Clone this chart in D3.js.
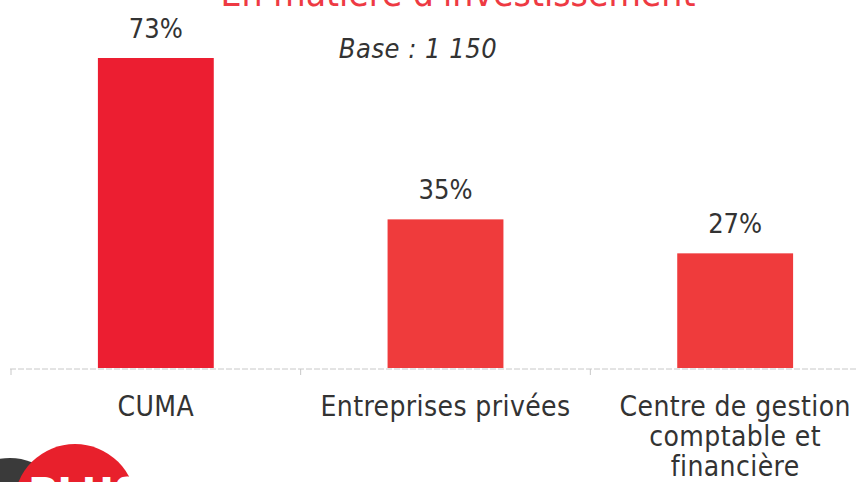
<!DOCTYPE html>
<html>
<head>
<meta charset="utf-8">
<script src="https://cdn.jsdelivr.net/npm/d3@7"></script>
<style>
  body { margin: 0; background: #fff; }
  svg { display: block; }
</style>
</head>
<body>
<div id="chart"></div>
<script>
// data
var categories = ['CUMA', 'Entreprises privées', 'Centre de gestion comptable et financière'];
var catLines = [['CUMA'], ['Entreprises privées'], ['Centre de gestion', 'comptable et', 'financière']];
var values = [73, 35, 27];
var titleText = "En matière d'investissement";
var baseText = 'Base : 1 150';

var width = 857, height = 482;
var baseline = 368;
var font = "'DejaVu Sans Condensed', 'DejaVu Sans', sans-serif";

var svg = d3.select('#chart').append('svg')
    .attr('width', width)
    .attr('height', height);

var x = d3.scaleBand()
    .domain(categories)
    .range([11, 880])
    .paddingInner(0.6)
    .paddingOuter(0.3);

var y = d3.scaleLinear()
    .domain([0, 73])
    .range([baseline, 58]);

// title, cut by the top edge
svg.append('text')
    .attr('x', 458).attr('y', 6)
    .attr('text-anchor', 'middle')
    .style('font-family', font)
    .style('font-size', '37px')
    .style('fill', '#ee3a43')
    .text(titleText);

svg.append('text')
    .attr('x', 418).attr('y', 58)
    .attr('text-anchor', 'middle')
    .style('font-family', font)
    .style('font-style', 'italic')
    .style('font-size', '27px')
    .style('letter-spacing', '0.5px')
    .style('fill', '#333')
    .text(baseText);

// axis line with light ticks
var step = x.step();
svg.append('line')
    .attr('x1', 10).attr('x2', width)
    .attr('y1', baseline + 1).attr('y2', baseline + 1)
    .style('stroke', '#c8c8c8')
    .style('stroke-width', 1)
    .style('stroke-dasharray', '6,2');
d3.range(categories.length).forEach(function(i){
    var tx = 11 + i * step;
    svg.append('line')
        .attr('x1', tx).attr('x2', tx)
        .attr('y1', baseline + 1).attr('y2', baseline + 7)
        .style('stroke', '#c8c8c8');
});

svg.selectAll('rect.bar')
    .data(values)
    .enter().append('rect')
    .attr('class', 'bar')
    .attr('x', function(d, i){ return x(categories[i]); })
    .attr('y', function(d){ return y(d); })
    .attr('width', x.bandwidth())
    .attr('height', function(d){ return baseline - y(d); })
    .style('fill', function(d, i){ return i === 0 ? '#ec1e31' : '#ef3b3c'; });

svg.selectAll('text.val')
    .data(values)
    .enter().append('text')
    .attr('class', 'val')
    .attr('x', function(d, i){ return x(categories[i]) + x.bandwidth() / 2; })
    .attr('y', function(d){ return y(d) - 20; })
    .attr('text-anchor', 'middle')
    .style('font-family', font)
    .style('font-size', '27px')
    .style('fill', '#333')
    .text(function(d){ return d + '%'; });

catLines.forEach(function(lines, i){
    var t = svg.append('text')
        .attr('text-anchor', 'middle')
        .style('font-family', font)
        .style('font-size', '28px')
        .style('letter-spacing', '0.4px')
        .style('fill', '#333');
    lines.forEach(function(l, j){
        t.append('tspan')
            .attr('x', x(categories[i]) + x.bandwidth() / 2)
            .attr('y', 416 + j * 30)
            .text(l);
    });
});

// logo fragment in the lower left corner
svg.append('circle').attr('cx', 10).attr('cy', 515).attr('r', 57).style('fill', '#3a3a3a');
svg.append('circle').attr('cx', 75).attr('cy', 505).attr('r', 61).style('fill', '#e8202c');
svg.append('text')
    .attr('x', 28).attr('y', 507)
    .style('font-family', "'DejaVu Sans', sans-serif")
    .style('font-weight', 'bold')
    .style('font-size', '40px')
    .style('fill', '#fff')
    .text('PLUS');
</script>
</body>
</html>
